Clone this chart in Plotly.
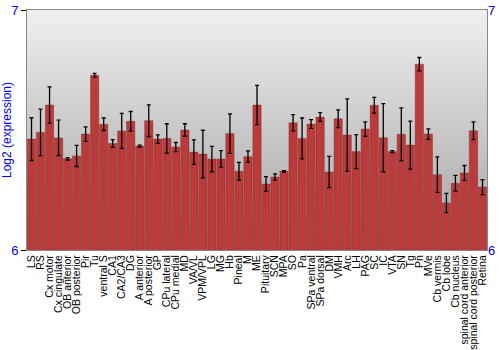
import plotly.graph_objects as go

regions = ["LS", "RS", "Cx motor", "Cx cingulate", "OB anterior", "OB posterior", "Pir", "Tu",
           "ventral S", "CA1", "CA2/CA3", "DG", "A anterior", "A posterior", "GP", "CPu lateral",
           "CPu medial", "MD", "VA/VL", "VPM/VPL", "LG", "MG", "Hb", "Pineal", "M", "ME",
           "Pituitary", "SCN", "MPA", "SO", "Pa", "SPa ventral", "SPa dorsal", "DM", "VMH", "Arc",
           "LH", "PAG", "SC", "IC", "VTA", "SN", "Tg", "Pn", "MVe", "Cb vermis", "Cb lobe",
           "Cb nucleus", "spinal cord anterior", "spinal cord posterior", "Retina"]

values = [6.462, 6.490, 6.604, 6.467, 6.380, 6.392, 6.483, 6.728,
          6.524, 6.444, 6.496, 6.536, 6.433, 6.539, 6.462, 6.465,
          6.429, 6.500, 6.408, 6.400, 6.379, 6.379, 6.485, 6.328, 6.389, 6.604,
          6.275, 6.304, 6.328, 6.530, 6.465, 6.525, 6.554, 6.325, 6.547, 6.479,
          6.410, 6.504, 6.603, 6.468, 6.410, 6.482, 6.437, 6.774, 6.483, 6.314, 6.196,
          6.278, 6.321, 6.497, 6.262]

errors = [0.089, 0.097, 0.076, 0.074, 0.005, 0.044, 0.030, 0.008,
          0.026, 0.016, 0.073, 0.041, 0.004, 0.066, 0.018, 0.061,
          0.019, 0.026, 0.051, 0.099, 0.053, 0.035, 0.082, 0.037, 0.024, 0.082,
          0.031, 0.013, 0.003, 0.034, 0.085, 0.018, 0.018, 0.065, 0.037, 0.151,
          0.071, 0.030, 0.033, 0.142, 0.004, 0.110, 0.100, 0.028, 0.022, 0.074, 0.040,
          0.033, 0.031, 0.037, 0.031]

y_ticks = [6, 7]
y_title = "Log2 (expression)"

fig = go.Figure()

# gradient background
n = 60
shapes = []
for i in range(n):
    c = int(round(240 - 78 * (1 - (i + 0.5) / n)))
    shapes.append(dict(type="rect", xref="x domain", yref="y domain",
                       x0=0, x1=1, y0=i / n, y1=(i + 1) / n,
                       fillcolor=f"rgb({c},{c},{c})", line=dict(width=0), layer="below"))

fig.add_trace(go.Bar(
    x=regions, y=values,
    marker=dict(color="#bb3a3a", line=dict(color="rgba(110,20,20,0.55)", width=0.6)),
    error_y=dict(type="data", array=errors, color="black", thickness=1.3, width=2),
    showlegend=False, hoverinfo="x+y",
))
fig.add_trace(go.Scatter(x=[regions[0]], y=[6], yaxis="y2", mode="markers",
                         marker=dict(opacity=0), showlegend=False, hoverinfo="skip"))

blue = "#0000ee"
fig.update_layout(
    width=500, height=350,
    margin=dict(l=27, r=13, t=10, b=100),
    paper_bgcolor="white", plot_bgcolor="#c8c8c8",
    shapes=shapes,
    bargap=0.08,
    font=dict(family="Liberation Sans, Arial, sans-serif"),
    xaxis=dict(type="category", range=[-0.5, len(regions) - 0.5], tickangle=-90,
               tickmode="linear", dtick=1, tick0=0, ticklabelstandoff=0,
               tickfont=dict(size=10.5, color="black"), ticks="", showline=True,
               linecolor="#888888", mirror=True, showgrid=False, automargin=False),
    yaxis=dict(range=[6, 7], tickvals=y_ticks, ticktext=[str(v) for v in y_ticks],
               tickfont=dict(size=13, color=blue), ticks="outside", ticklen=5,
               tickcolor="black", showline=True, linecolor="#888888", mirror=True,
               showgrid=False, zeroline=False, automargin=False,
               title=dict(text=y_title, font=dict(size=12, color=blue), standoff=3)),
    yaxis2=dict(range=[6, 7], tickvals=y_ticks, ticktext=[str(v) for v in y_ticks],
                overlaying="y", side="right", tickfont=dict(size=13, color=blue),
                ticks="", showgrid=False, zeroline=False, showline=False, automargin=False),
)

fig.write_html("out.html")
